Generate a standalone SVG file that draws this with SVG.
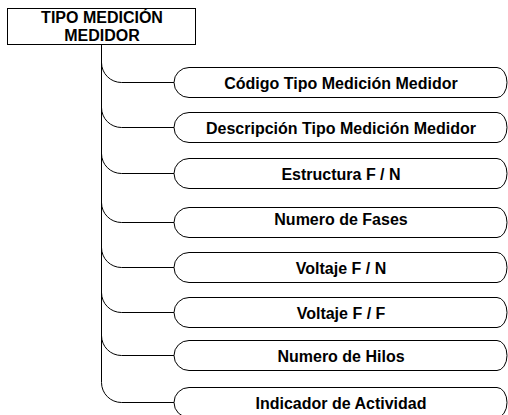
<svg xmlns="http://www.w3.org/2000/svg" width="508" height="415" viewBox="0 0 508 415">
<style>
.box{fill:#fff;stroke:#000;stroke-width:1}
.conn{fill:none;stroke:#000;stroke-width:1}
.t{font-family:"Liberation Sans",Arial,sans-serif;font-weight:bold;font-size:16px;fill:#000;text-anchor:middle}
</style>
<rect width="508" height="415" fill="#fff"/>
<g id="connectors" class="conn">
<path d="M101.5,44 V382.5"/>
<path d="M101.5,62.5 A20,20 0 0 0 121.5,82.5 H174"/>
<path d="M101.5,107.5 A20,20 0 0 0 121.5,127.5 H174"/>
<path d="M101.5,153.5 A20,20 0 0 0 121.5,173.5 H174"/>
<path d="M101.5,202.5 A20,20 0 0 0 121.5,222.5 H174"/>
<path d="M101.5,247.5 A20,20 0 0 0 121.5,267.5 H174"/>
<path d="M101.5,292.5 A20,20 0 0 0 121.5,312.5 H174"/>
<path d="M101.5,335.5 A20,20 0 0 0 121.5,355.5 H174"/>
<path d="M101.5,382.5 A20,20 0 0 0 121.5,402.5 H174"/>
</g>
<g id="root">
<rect class="box" x="7.5" y="8.5" width="188" height="36"/>
<text class="t" x="102" y="23">TIPO MEDICIÓN</text>
<text class="t" x="102" y="41">MEDIDOR</text>
</g>
<g id="n1"><path class="box" d="M189,67.5 H497 A10,15 0 0 1 497,97.5 H189 A15,15 0 0 1 189,67.5 Z"/><text class="t" x="341" y="88.5">Código Tipo Medición Medidor</text></g>
<g id="n2"><path class="box" d="M189,112.5 H497 A10,15 0 0 1 497,142.5 H189 A15,15 0 0 1 189,112.5 Z"/><text class="t" x="341" y="133.5">Descripción Tipo Medición Medidor</text></g>
<g id="n3"><path class="box" d="M189,158.5 H497 A10,15 0 0 1 497,188.5 H189 A15,15 0 0 1 189,158.5 Z"/><text class="t" x="341" y="179.5">Estructura F / N</text></g>
<g id="n4"><path class="box" d="M189,207.5 H497 A10,15 0 0 1 497,237.5 H189 A15,15 0 0 1 189,207.5 Z"/><text class="t" x="341" y="225">Numero de Fases</text></g>
<g id="n5"><path class="box" d="M189,252.5 H497 A10,15 0 0 1 497,282.5 H189 A15,15 0 0 1 189,252.5 Z"/><text class="t" x="341" y="273.5">Voltaje F / N</text></g>
<g id="n6"><path class="box" d="M189,297.5 H497 A10,15 0 0 1 497,327.5 H189 A15,15 0 0 1 189,297.5 Z"/><text class="t" x="341" y="318.5">Voltaje F / F</text></g>
<g id="n7"><path class="box" d="M189,340.5 H497 A10,15 0 0 1 497,370.5 H189 A15,15 0 0 1 189,340.5 Z"/><text class="t" x="341" y="361.5">Numero de Hilos</text></g>
<g id="n8"><path class="box" d="M189,387.5 H497 A10,15 0 0 1 497,417.5 H189 A15,15 0 0 1 189,387.5 Z"/><text class="t" x="341" y="408.5">Indicador de Actividad</text></g>
</svg>
